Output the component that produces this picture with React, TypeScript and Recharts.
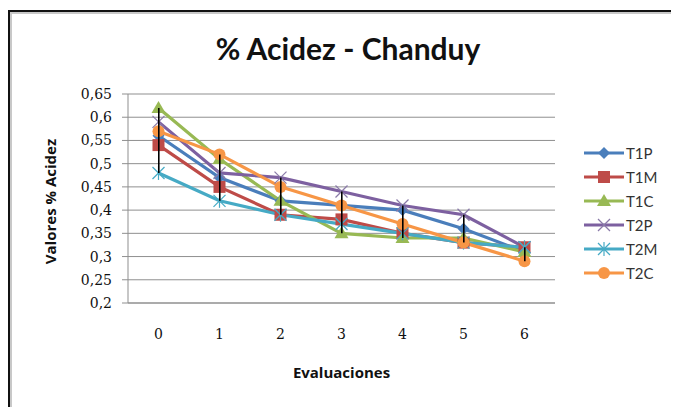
import React from 'react';
import { ComposedChart, Line, Bar, XAxis, YAxis, CartesianGrid, Legend } from 'recharts';

const categories = ['0', '1', '2', '3', '4', '5', '6'];
const T1P = [0.56, 0.47, 0.42, 0.41, 0.40, 0.36, 0.31];
const T1M = [0.54, 0.45, 0.39, 0.38, 0.35, 0.33, 0.32];
const T1C = [0.62, 0.51, 0.42, 0.35, 0.34, 0.34, 0.31];
const T2P = [0.59, 0.48, 0.47, 0.44, 0.41, 0.39, 0.32];
const T2M = [0.48, 0.42, 0.39, 0.37, 0.35, 0.33, 0.32];
const T2C = [0.57, 0.52, 0.45, 0.41, 0.37, 0.33, 0.29];
const yTicks = [0.2, 0.25, 0.3, 0.35, 0.4, 0.45, 0.5, 0.55, 0.6, 0.65];

const seriesList = [
  { key: 'T1P', values: T1P, color: '#4A7EBB', shape: 'diamond' },
  { key: 'T1M', values: T1M, color: '#BE4B48', shape: 'square' },
  { key: 'T1C', values: T1C, color: '#98B954', shape: 'triangle' },
  { key: 'T2P', values: T2P, color: '#7D60A0', shape: 'x' },
  { key: 'T2M', values: T2M, color: '#46AAC5', shape: 'star' },
  { key: 'T2C', values: T2C, color: '#F79646', shape: 'circle' },
];

const data = categories.map((c, i) => {
  const row: any = { cat: c };
  const vals: number[] = [];
  seriesList.forEach((s) => {
    row[s.key] = s.values[i];
    vals.push(s.values[i]);
  });
  row.range = [Math.min(...vals), Math.max(...vals)];
  return row;
});

function Marker({ cx, cy, shape, color }: any) {
  if (cx == null || cy == null) return null;
  switch (shape) {
    case 'diamond':
      return <polygon points={`${cx},${cy - 6} ${cx + 6},${cy} ${cx},${cy + 6} ${cx - 6},${cy}`} fill={color} />;
    case 'square':
      return <rect x={cx - 6} y={cy - 6} width={12} height={12} fill={color} />;
    case 'triangle':
      return <polygon points={`${cx},${cy - 7} ${cx + 7},${cy + 5} ${cx - 7},${cy + 5}`} fill={color} />;
    case 'x':
      return (
        <g stroke="#8a7aa8" strokeWidth={1.2}>
          <line x1={cx - 6} y1={cy - 6} x2={cx + 6} y2={cy + 6} />
          <line x1={cx - 6} y1={cy + 6} x2={cx + 6} y2={cy - 6} />
        </g>
      );
    case 'star':
      return (
        <g stroke={color} strokeWidth={1.2}>
          <line x1={cx - 6} y1={cy - 6} x2={cx + 6} y2={cy + 6} />
          <line x1={cx - 6} y1={cy + 6} x2={cx + 6} y2={cy - 6} />
          <line x1={cx} y1={cy - 7} x2={cx} y2={cy + 7} />
        </g>
      );
    default:
      return <circle cx={cx} cy={cy} r={6} fill={color} />;
  }
}

function LegendContent() {
  return (
    <div style={{ display: 'flex', flexDirection: 'column' }}>
      {seriesList.map((s) => (
        <div key={s.key} style={{ display: 'flex', alignItems: 'center', height: 24 }}>
          <svg width={40} height={16}>
            <line x1={0} y1={8} x2={40} y2={8} stroke={s.color} strokeWidth={3} />
            <Marker cx={20} cy={8} shape={s.shape} color={s.color} />
          </svg>
          <span style={{ fontFamily: 'Lato', fontSize: 15, color: '#333', marginLeft: 2 }}>{s.key}</span>
        </div>
      ))}
    </div>
  );
}

function YLabel({ viewBox }: any) {
  const cx = 42;
  const cy = viewBox.y + viewBox.height / 2 + 3;
  return (
    <text x={cx} y={cy} transform={`rotate(-90 ${cx} ${cy})`} textAnchor="middle" dominantBaseline="central"
      style={{ fontFamily: 'Open Sans', fontWeight: 700, fontSize: 15, fill: '#111' }}>
      Valores % Acidez
    </text>
  );
}

export default function App() {
  return (
    <div style={{ position: 'relative', width: 671, height: 399 }}>
      <div style={{ position: 'absolute', left: 0, top: 2, width: 700, height: 420, borderLeft: '2px solid #111', borderTop: '2px solid #111', boxShadow: 'inset 2px 2px 0 #c8c8c8', boxSizing: 'border-box' }} />
      <div style={{ position: 'absolute', left: 0, top: 22, width: 680, textAlign: 'center', fontFamily: 'Lato', fontWeight: 700, fontSize: 30, color: '#111' }}>
        % Acidez - Chanduy
      </div>
      <div style={{ position: 'absolute', left: 0, top: 0 }}>
        <ComposedChart width={671} height={399} data={data} margin={{ top: 86, right: 29, bottom: 24, left: 0 }}>
          <CartesianGrid vertical={false} stroke="#8f8f8f" strokeWidth={1} />
          <XAxis dataKey="cat" scale="band" tickLine={false} tickSize={0} tickMargin={26} height={80} axisLine={{ stroke: '#8f8f8f' }}
            tick={{ fontFamily: 'DejaVu Serif', fontSize: 14, fill: '#111' }}
            label={{ value: 'Evaluaciones', position: 'insideBottom', offset: 5, style: { fontFamily: 'Open Sans', fontWeight: 700, fontSize: 15, fill: '#111' } }} />
          <YAxis type="number" domain={[0.2, 0.65]} ticks={yTicks} width={120} interval={0}
            tickFormatter={(v: number) => String(Number(v.toFixed(2))).replace('.', ',')}
            tickSize={6} tickMargin={10} tickLine={{ stroke: '#8f8f8f' }} axisLine={{ stroke: '#8f8f8f' }}
            tick={{ fontFamily: 'DejaVu Serif', fontSize: 14, fill: '#111' }}
            label={<YLabel />} />
          {seriesList.map((s) => (
            <Line key={s.key} type="linear" dataKey={s.key} stroke={s.color} strokeWidth={3.2} isAnimationActive={false}
              dot={(p: any) => <Marker key={`${s.key}-${p.index}`} cx={p.cx} cy={p.cy} shape={s.shape} color={s.color} />}
              activeDot={false} />
          ))}
          <Legend layout="vertical" verticalAlign="top" align="right" content={<LegendContent />}
            wrapperStyle={{ position: 'absolute', left: 576, top: 133, width: 95 }} />
        </ComposedChart>
      </div>
      <div style={{ position: 'absolute', left: 0, top: 0, pointerEvents: 'none' }}>
        <ComposedChart width={671} height={399} data={data} margin={{ top: 86, right: 124, bottom: 104, left: 120 }}>
          <XAxis dataKey="cat" scale="band" hide />
          <YAxis type="number" domain={[0.2, 0.65]} hide />
          <Bar dataKey="range" barSize={1.6} fill="#000" isAnimationActive={false} />
        </ComposedChart>
      </div>
    </div>
  );
}
